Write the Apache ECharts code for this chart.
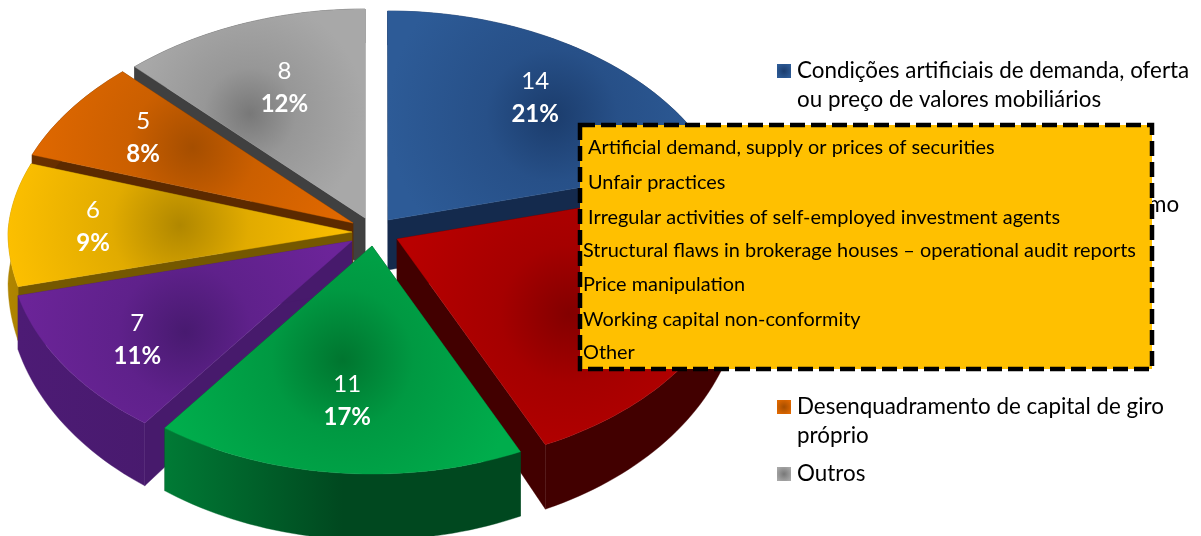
<!DOCTYPE html>
<html><head><meta charset="utf-8">
<style>html,body{margin:0;padding:0;background:#fff}#c{width:1201px;height:536px}</style>
<script src="https://cdn.jsdelivr.net/npm/echarts@6/dist/echarts.min.js"></script>
</head><body><div id="c"></div>
<script>
// clockwise from 12 o'clock
const categories = [
  'Condições artificiais de demanda, oferta ou preço de valores mobiliários',
  'Práticas não equitativas',
  'Atividades irregulares de agentes autônomos de investimento',
  'Falhas estruturais em corretoras',
  'Manipulação de preços',
  'Desenquadramento de capital de giro próprio',
  'Outros'
];
const values = [14, 15, 11, 7, 6, 5, 8];
const percents = ['21%', '23%', '17%', '11%', '9%', '8%', '12%'];
const faceEdge = ['#2d5b97', '#b80000', '#00ad4c', '#6c2499', '#fcbf00', '#e06800', '#a8a8a8'];
const faceMid = ['#1b3c6c', '#830000', '#00752f', '#481a70', '#b08700', '#a54e00', '#787878'];
const wallLight = ['#17305a', '#420000', '#007a35', '#4d1b75', '#b08500', '#6a3000', '#404040'];
const wallDark = ['#142a4d', '#420000', '#00481f', '#471a6c', '#755800', '#5c2a00', '#404040'];
const tips = [[388, 220], [397, 239], [372, 246], [352, 241], [352, 232], [353, 223], [365, 218]];
const labelNudge = [[2, -2], [0, 0], [0, -9], [-8, 8], [-12, 2], [-6, -4], [8, 9]];
const paintOrder = [0, 6, 5, 1, 4, 3, 2];
const legendShown = [
  { slice: 0, lines: ['Condições artificiais de demanda, oferta', 'ou preço de valores mobiliários'] },
  { slice: 5, lines: ['Desenquadramento de capital de giro', 'próprio'] },
  { slice: 6, lines: ['Outros'] }
];
const strayLegendText = 'mo';
const boxLines = [
  'Artificial demand, supply or prices of securities',
  'Unfair practices',
  'Irregular activities of self-employed investment agents',
  'Structural flaws in brokerage houses – operational audit reports',
  'Price manipulation',
  'Working capital non-conformity',
  'Other'
];
const FONT = 'Lato, "Open Sans", sans-serif';
const total = values.reduce((a, b) => a + b, 0);
const rad = Math.PI / 180;
const warp = t => t - 4 * Math.exp(-Math.pow((t - 140) / 70, 2));
const pt = (i, deg, f) => {
  const s = Math.sin(deg * rad), c = Math.cos(deg * rad), v = -c;
  const rx = v >= 0 ? 344 : 344 + 14 * v, ry = v >= 0 ? 228 : 209;
  return [tips[i][0] + rx * s * f, tips[i][1] + ry * v * f];
};
const depth = deg => 50 - 16 * Math.cos(deg * rad);
let acc = 0;
const spans = values.map(v => { const a = acc; acc += v; return [warp(a / total * 360), warp(acc / total * 360)]; });

function renderSlice(params, api) {
  const i = paintOrder[params.dataIndex];
  const [a, b] = spans[i];
  const tip = tips[i];
  const arc = [], low = [];
  for (let d = a; d < b; d += 1.5) { const p = pt(i, d, 1); arc.push(p); low.push([p[0], p[1] + depth(d)]); }
  const pe = pt(i, b, 1); arc.push(pe); low.push([pe[0], pe[1] + depth(b)]);
  const xs = arc.map(p => p[0]).concat(tip[0]), ys = arc.map(p => p[1]).concat(tip[1]);
  const x0 = Math.min(...xs), x1 = Math.max(...xs), y0 = Math.min(...ys), y1 = Math.max(...ys);
  const faceFill = new echarts.graphic.RadialGradient((x0 + x1) / 2, (y0 + y1) / 2, Math.max(x1 - x0, y1 - y0) * 0.5,
    [{ offset: 0, color: faceMid[i] },
     { offset: 0.4, color: echarts.color.lerp(0.65, [faceMid[i], faceEdge[i]]) },
     { offset: 1, color: faceEdge[i] }], true);
  const wallFill = new echarts.graphic.LinearGradient(x0, 0, x1, 0,
    [{ offset: 0, color: wallLight[i] }, { offset: 0.5, color: wallDark[i] }, { offset: 1, color: wallDark[i] }], true);
  const tipLow = [tip[0], tip[1] + 50];
  const poly = (points, fill) => ({ type: 'polygon', shape: { points }, style: { fill, stroke: fill, lineWidth: 0.4 } });
  const children = [
    poly([tip, arc[0], low[0], tipLow], wallDark[i]),
    poly([tip, arc[arc.length - 1], low[low.length - 1], tipLow], wallDark[i]),
    poly(arc.concat(low.slice().reverse()), wallFill),
    poly([tip].concat(arc), faceFill)
  ];
  if (!isCoveredByBox(i)) {
    const lp = pt(i, (a + b) / 2, 0.72);
    const lx = lp[0] + labelNudge[i][0], ly = lp[1] + labelNudge[i][1];
    children.push({ type: 'text', z2: 5, style: { x: lx, y: ly - 16.5, text: String(api.value(0)), fill: '#fff', font: '24px ' + FONT, align: 'center', verticalAlign: 'middle' } });
    children.push({ type: 'text', z2: 5, style: { x: lx, y: ly + 16.5, text: percents[i], fill: '#fff', font: 'bold 24px ' + FONT, align: 'center', verticalAlign: 'middle' } });
  }
  return { type: 'group', children };
}
function isCoveredByBox(i) { return i === 1; }

const graphics = [];
legendShown.forEach((item, n) => {
  const top = [71, 407, 474][n];
  graphics.push({ type: 'rect', shape: { x: 777, y: top - 7, width: 14, height: 14 },
    style: { fill: new echarts.graphic.RadialGradient(0.5, 0.5, 0.6, [{ offset: 0, color: faceMid[item.slice] }, { offset: 1, color: faceEdge[item.slice] }]) } });
  item.lines.forEach((t, k) => graphics.push({ type: 'text', x: 797, y: top + k * 28.5,
    style: { text: t, fill: '#000', font: '22.4px ' + FONT, verticalAlign: 'middle' } }));
});
graphics.push({ type: 'text', x: 1148, y: 205, style: { text: strayLegendText, fill: '#000', font: '22.4px ' + FONT, verticalAlign: 'middle' } });
graphics.push({ type: 'rect', z: 20, shape: { x: 580, y: 125, width: 572, height: 244 },
  style: { fill: '#ffc000', stroke: '#000', lineWidth: 4.5, lineDash: [15, 6] } });
[148, 183, 218, 251, 285, 320, 353].forEach((y, k) => graphics.push({ type: 'text', z: 21, x: k < 3 ? 588 : 583, y,
  style: { text: boxLines[k], fill: '#000', font: '19.9px ' + FONT, verticalAlign: 'middle' } }));

const chart = echarts.init(document.getElementById('c'), null, { renderer: 'canvas' });
chart.setOption({
  animation: false,
  backgroundColor: '#fff',
  series: [{
    type: 'custom',
    coordinateSystem: 'none',
    silent: true,
    renderItem: renderSlice,
    data: paintOrder.map(i => ({ name: categories[i], value: [values[i]] }))
  }],
  graphic: { elements: graphics }
});
</script></body></html>
